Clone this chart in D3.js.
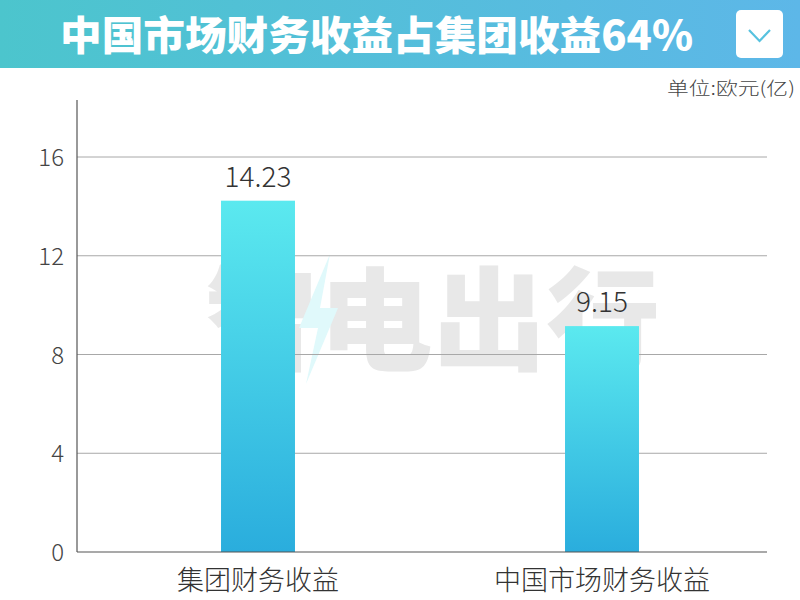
<!DOCTYPE html>
<html><head><meta charset="utf-8">
<script src="https://cdn.jsdelivr.net/npm/d3@7"></script>
<style>
html,body{margin:0;padding:0;background:#fff;}
svg{display:block;}
</style></head>
<body>
<svg id="chart" width="800" height="600"></svg>
<script>
const titleText = "中国市场财务收益占集团收益64%";
const unitText = "单位:欧元(亿)";
const categories = ["集团财务收益", "中国市场财务收益"];
const values = [14.23, 9.15];
const valueLabels = ["14.23", "9.15"];
const yTicks = [0, 4, 8, 12, 16];

const svg = d3.select("#chart");
const defs = svg.append("defs");
const hg = defs.append("linearGradient").attr("id","hdr").attr("x1","0").attr("x2","1").attr("y1","0").attr("y2","0");
hg.append("stop").attr("offset","0").attr("stop-color","#4cc5cd");
hg.append("stop").attr("offset","1").attr("stop-color","#5db7e8");
const bg = defs.append("linearGradient").attr("id","bar").attr("x1","0").attr("x2","0").attr("y1","0").attr("y2","1");
bg.append("stop").attr("offset","0").attr("stop-color","#5be9ef");
bg.append("stop").attr("offset","1").attr("stop-color","#2aaddd");

const CJK = "'Noto Sans CJK SC','Noto Sans',sans-serif";

// header
svg.append("rect").attr("x",0).attr("y",0).attr("width",800).attr("height",68).attr("fill","url(#hdr)");
svg.append("text").text(titleText).attr("x",60).attr("y",50)
  .attr("font-family",CJK).attr("font-weight",900).attr("font-size",40)
  .attr("fill","#fff").attr("textLength",633).attr("lengthAdjust","spacingAndGlyphs");
svg.append("rect").attr("x",736).attr("y",10).attr("width",47).attr("height",48).attr("rx",5).attr("fill","#fff");
svg.append("path").attr("d","M749,30 L759.5,41 L770,30").attr("fill","none").attr("stroke","#57c2df").attr("stroke-width",2.2);

svg.append("text").text(unitText).attr("x",795).attr("y",95).attr("text-anchor","end")
  .attr("font-family",CJK).attr("font-weight",300).attr("font-size",18).attr("fill","#444")
  .attr("textLength",128).attr("lengthAdjust","spacingAndGlyphs");

// scales
const y = d3.scaleLinear().domain([0,16]).range([552,157]);
const x = d3.scaleBand().domain(categories).range([86,774]).paddingInner(0.785).paddingOuter(0.3925);

// watermark
const wm = svg.append("g");
wm.append("text").text("智电出行").attr("x",205).attr("y",362)
  .attr("font-family",CJK).attr("font-weight",900).attr("font-size",112)
  .attr("fill","#e8e8e8").attr("textLength",455).attr("lengthAdjust","spacingAndGlyphs");
wm.append("path").attr("d","M330,254 L299,328 L318,328 L306,384 L338,308 L320,308 Z").attr("fill","#e0f9fb");

// grid
svg.append("g").selectAll("line").data(yTicks.filter(d=>d>0)).join("line")
  .attr("x1",77).attr("x2",767).attr("y1",d=>y(d)).attr("y2",d=>y(d))
  .attr("stroke","#a8a8a8").attr("stroke-width",1);

// y tick labels
svg.append("g").selectAll("text").data(yTicks).join("text")
  .text(d=>d).attr("x",64).attr("y",d=>y(d)+9).attr("text-anchor","end")
  .attr("font-family",CJK).attr("font-weight",300).attr("font-size",24).attr("fill","#444");

// bars
svg.append("g").selectAll("rect").data(values).join("rect")
  .attr("x",(d,i)=>x(categories[i])).attr("width",x.bandwidth())
  .attr("y",d=>y(d)).attr("height",d=>y(0)-y(d)).attr("fill","url(#bar)");

// value labels
svg.append("g").selectAll("text").data(values).join("text")
  .text((d,i)=>valueLabels[i])
  .attr("x",(d,i)=>x(categories[i])+x.bandwidth()/2).attr("y",d=>y(d)-14)
  .attr("text-anchor","middle").attr("font-family",CJK).attr("font-weight",300)
  .attr("font-size",28).attr("fill","#333");

// axes lines
svg.append("line").attr("x1",77).attr("x2",77).attr("y1",100).attr("y2",552).attr("stroke","#555").attr("stroke-width",1.2);
svg.append("line").attr("x1",77).attr("x2",767).attr("y1",552).attr("y2",552).attr("stroke","#555").attr("stroke-width",1.2);

// category labels
svg.append("g").selectAll("text").data(categories).join("text")
  .text(d=>d).attr("x",d=>x(d)+x.bandwidth()/2).attr("y",590)
  .attr("text-anchor","middle").attr("font-family",CJK).attr("font-weight",300)
  .attr("font-size",27).attr("fill","#333");
</script>
</body></html>
